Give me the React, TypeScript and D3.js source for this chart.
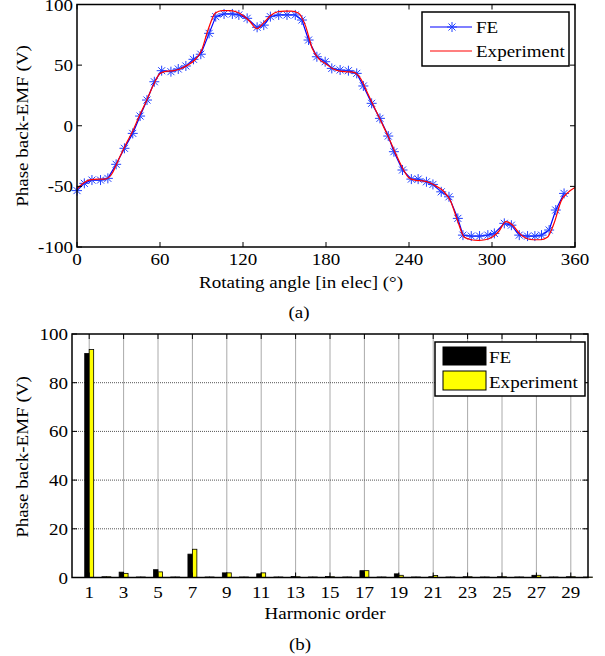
import React from "react";
import * as d3 from "d3";

// (a) back-EMF waveform, FE sample points
const angleFE = [0, 5.3, 10.8, 17, 22.3, 28.3, 34.3, 40.3, 45.6, 50.6, 55.9, 61.2, 67.9, 73.2, 78.7, 84.2,
  89.5, 95.5, 100.3, 106.3, 112.3, 117, 123, 130.2, 135, 139.8, 145.8, 151.8, 157.8, 162.6, 167.4, 173.4,
  179.4, 184.2, 190.2, 196.2, 202.2, 207, 213, 219, 225, 229.1, 235.3, 241.7, 246.6, 252.6, 257.3, 263.3,
  268.9, 275.3, 279, 285, 291, 297, 301.7, 308.9, 314, 319.7, 325.7, 331, 335.8, 341.3, 346.1, 352.1];
const valueFE = [-53.5, -47.5, -44.8, -44.8, -43.4, -31.8, -18.6, -6.3, 8, 21.2, 36.3, 45.4, 44.6, 46.8, 49.3, 54.8,
  59, 76.2, 90, 92.2, 92.2, 91.4, 88.6, 81.2, 83, 90, 91.4, 91.4, 91.4, 87.2, 70.7, 56.9,
  52.8, 47.3, 46, 45.4, 43.2, 32.8, 18.5, 6.1, -8.5, -21.4, -36.5, -44, -44, -46.2, -48.4, -54.5,
  -58.6, -76.4, -90.2, -91, -91, -90.2, -88.8, -80.5, -82, -90.2, -91, -91, -90.2, -86, -69.5, -55.8];

// (a) measured waveform
const angleExp = [0, 5, 10, 15, 20, 25, 30, 35, 40, 45, 50, 55, 60, 65, 70, 75, 80, 85, 90, 95, 100, 105, 110,
  115, 120, 125, 130, 135, 140, 145, 150, 155, 160, 165, 170, 175, 180, 185, 190, 195, 200, 205, 210, 215,
  220, 225, 230, 235, 240, 245, 250, 255, 260, 265, 270, 275, 280, 285, 290, 295, 300, 305, 310, 315, 320,
  325, 330, 335, 340, 345, 350, 355, 360];
const valueExp = [-52, -47, -44.5, -44, -44, -40, -28, -16, -5, 8, 20, 33, 43, 45, 45.5, 47, 50, 54, 62, 80, 93,
  95, 95, 94, 91, 86, 80, 85, 91, 94, 94.5, 94.5, 93, 83, 64, 55, 51, 47, 45, 44.5, 44, 39, 27, 15,
  3, -9, -22, -34, -43, -45, -45.5, -47, -50, -54, -62, -78, -92, -94, -94.5, -94, -92, -87, -79, -82, -89,
  -93, -94, -94, -92, -80, -62, -55, -51];

const angleTicks = [0, 60, 120, 180, 240, 300, 360];
const emfTicks = [-100, -50, 0, 50, 100];

// (b) harmonic spectrum
const harmonics = [1, 2, 3, 4, 5, 6, 7, 8, 9, 10, 11, 12, 13, 14, 15, 16, 17, 18, 19, 20, 21, 22, 23, 24, 25, 26, 27, 28, 29, 30];
const harmFE = [92, 0.3, 2.2, 0.2, 3.2, 0.2, 9.6, 0.2, 1.9, 0.2, 1.5, 0.2, 0.4, 0.2, 0.4, 0.2, 2.8, 0.2, 1.5, 0.2,
  0.3, 0.2, 0.3, 0.2, 0.3, 0.2, 0.9, 0.2, 0.3, 0.2];
const harmExp = [93.6, 0.3, 1.7, 0.2, 2.3, 0.2, 11.6, 0.2, 1.9, 0.2, 1.9, 0.2, 0.3, 0.2, 0.3, 0.2, 2.8, 0.2, 0.9, 0.2,
  0.8, 0.2, 0.3, 0.2, 0.3, 0.2, 0.9, 0.2, 0.3, 0.2];
const harmTicks = [1, 3, 5, 7, 9, 11, 13, 15, 17, 19, 21, 23, 25, 27, 29];
const spectrumTicks = [0, 20, 40, 60, 80, 100];

const FONT = "'Liberation Serif', 'Times New Roman', serif";
const FS = 17;
const SX = 1.12; // the original glyphs look a little wide

function T({ x, y, anchor = "middle", rotate = 0, children }: any) {
  return (
    <text
      transform={`translate(${x},${y}) rotate(${rotate}) scale(${SX},1)`}
      textAnchor={anchor}
      fontFamily={FONT}
      fontSize={FS}
      fill="#000"
    >
      {children}
    </text>
  );
}

const star = "M-5,0H5M0,-5V5M-3.5,-3.5L3.5,3.5M-3.5,3.5L3.5,-3.5";

function Waveform() {
  const x = d3.scaleLinear().domain([0, 360]).range([77, 575]);
  const y = d3.scaleLinear().domain([-100, 100]).range([247, 4.5]);
  const line = d3.line<number>().x((_, i) => x(angleFE[i])).y((d) => y(d));
  const lineExp = d3.line<number>().x((_, i) => x(angleExp[i])).y((d) => y(d)).curve(d3.curveMonotoneX);
  const [x0, x1] = x.range();
  const [y0, y1] = y.range();
  return (
    <g>
      <path d={line(valueFE) || ""} fill="none" stroke="#0000ff" strokeWidth={1.2} />
      {valueFE.map((v, i) => (
        <path key={i} d={star} transform={`translate(${x(angleFE[i])},${y(v)})`} stroke="#2040ff" strokeWidth={1} fill="none" />
      ))}
      <path d={lineExp(valueExp) || ""} fill="none" stroke="#ff0000" strokeWidth={1.2} />

      <rect x={x0} y={y1} width={x1 - x0} height={y0 - y1} fill="none" stroke="#000" strokeWidth={1.5} />
      {angleTicks.map((t) => (
        <g key={t}>
          <line x1={x(t)} x2={x(t)} y1={y0} y2={y0 - 5} stroke="#000" />
          <line x1={x(t)} x2={x(t)} y1={y1} y2={y1 + 5} stroke="#000" />
          <T x={x(t)} y={y0 + 18}>{t}</T>
        </g>
      ))}
      {emfTicks.map((t) => (
        <g key={t}>
          <line x1={x0} x2={x0 + 5} y1={y(t)} y2={y(t)} stroke="#000" />
          <line x1={x1} x2={x1 - 5} y1={y(t)} y2={y(t)} stroke="#000" />
          <T x={x0 - 4} y={y(t) + 6} anchor="end">{t}</T>
        </g>
      ))}
      <T x={301} y={288}>Rotating angle [in elec] (°)</T>
      <T x={299} y={318}>(a)</T>
      <T x={28} y={126} rotate={-90}>Phase back-EMF (V)</T>

      <rect x={422} y={12} width={147} height={54} fill="#fff" stroke="#000" strokeWidth={1.5} />
      <line x1={430} x2={472} y1={27} y2={27} stroke="#0000ff" strokeWidth={1.2} />
      <path d={star} transform="translate(452,27)" stroke="#2040ff" fill="none" />
      <line x1={430} x2={472} y1={51} y2={51} stroke="#ff0000" strokeWidth={1.2} />
      <T x={476} y={33} anchor="start">FE</T>
      <T x={476} y={57} anchor="start">Experiment</T>
    </g>
  );
}

function Spectrum() {
  const x = d3.scaleLinear().domain([0, 30]).range([72, 588]);
  const y = d3.scaleLinear().domain([0, 100]).range([577.5, 334]);
  const [x0, x1] = x.range();
  const [y0, y1] = y.range();
  const bw = 0.26;
  return (
    <g>
      {harmTicks.map((t) => (
        <line key={"gx" + t} x1={x(t)} x2={x(t)} y1={y0} y2={y1} stroke="#555" strokeDasharray="1 1" />
      ))}
      {spectrumTicks.slice(1, -1).map((t) => (
        <line key={"gy" + t} x1={x0} x2={x1} y1={y(t)} y2={y(t)} stroke="#555" strokeDasharray="1 1" />
      ))}
      {harmonics.map((h, i) => (
        <g key={h}>
          <rect x={x(h - bw)} y={y(harmFE[i])} width={x(h) - x(h - bw)} height={y0 - y(harmFE[i])} fill="#000" stroke="#000" strokeWidth={0.8} />
          <rect x={x(h)} y={y(harmExp[i])} width={x(h + bw) - x(h)} height={y0 - y(harmExp[i])} fill="#ffff00" stroke="#000" strokeWidth={0.8} />
        </g>
      ))}
      <rect x={x0} y={y1} width={x1 - x0} height={y0 - y1} fill="none" stroke="#000" strokeWidth={1.5} />
      {harmTicks.map((t) => (
        <g key={t}>
          <line x1={x(t)} x2={x(t)} y1={y0} y2={y0 - 5} stroke="#000" />
          <line x1={x(t)} x2={x(t)} y1={y1} y2={y1 + 5} stroke="#000" />
          <T x={x(t)} y={y0 + 20}>{t}</T>
        </g>
      ))}
      {spectrumTicks.map((t) => (
        <g key={t}>
          <line x1={x0} x2={x0 + 5} y1={y(t)} y2={y(t)} stroke="#000" />
          <line x1={x1} x2={x1 - 5} y1={y(t)} y2={y(t)} stroke="#000" />
          <T x={x0 - 4} y={y(t) + 6} anchor="end">{t}</T>
        </g>
      ))}
      <T x={325} y={619}>Harmonic order</T>
      <T x={300} y={650}>(b)</T>
      <T x={28} y={457} rotate={-90}>Phase back-EMF (V)</T>

      <rect x={435} y={342} width={150} height={54} fill="#fff" stroke="#000" strokeWidth={1.5} />
      <rect x={443} y={347} width={43} height={18} fill="#000" stroke="#000" />
      <rect x={443} y={371} width={43} height={19} fill="#ffff00" stroke="#000" />
      <T x={489} y={363} anchor="start">FE</T>
      <T x={489} y={388} anchor="start">Experiment</T>
    </g>
  );
}

export default function App() {
  return (
    <svg
      width={605}
      height={656}
      style={{ position: "absolute", left: 0, top: 0, background: "#fff" }}
    >
      <rect width={605} height={656} fill="#fff" />
      <Waveform />
      <Spectrum />
    </svg>
  );
}
